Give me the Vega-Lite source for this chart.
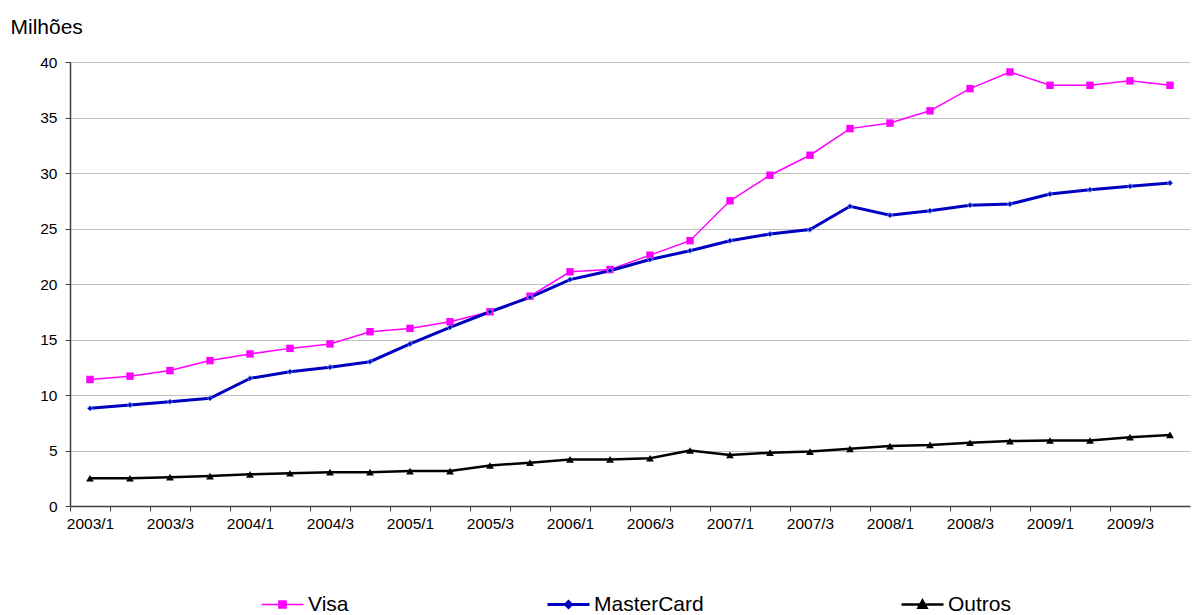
{
  "$schema": "https://vega.github.io/schema/vega-lite/v6.json",
  "description": "Cartões por bandeira, milhões, trimestral 2003-2009",
  "width": 1120,
  "height": 444,
  "autosize": "none",
  "padding": {"left": 70, "top": 62, "right": 4, "bottom": 109},
  "config": {
    "font": "Liberation Sans",
    "view": {"stroke": null},
    "axis": {"labelColor": "black", "titleColor": "black", "domainColor": "#404040", "tickColor": "#404040"}
  },
  "data": {
    "values": [
      {"q": "2003/1", "s": "Visa", "v": 11.4}, {"q": "2003/2", "s": "Visa", "v": 11.7}, {"q": "2003/3", "s": "Visa", "v": 12.2}, {"q": "2003/4", "s": "Visa", "v": 13.1},
      {"q": "2004/1", "s": "Visa", "v": 13.7}, {"q": "2004/2", "s": "Visa", "v": 14.2}, {"q": "2004/3", "s": "Visa", "v": 14.6}, {"q": "2004/4", "s": "Visa", "v": 15.7},
      {"q": "2005/1", "s": "Visa", "v": 16.0}, {"q": "2005/2", "s": "Visa", "v": 16.6}, {"q": "2005/3", "s": "Visa", "v": 17.5}, {"q": "2005/4", "s": "Visa", "v": 18.9},
      {"q": "2006/1", "s": "Visa", "v": 21.1}, {"q": "2006/2", "s": "Visa", "v": 21.3}, {"q": "2006/3", "s": "Visa", "v": 22.6}, {"q": "2006/4", "s": "Visa", "v": 23.9},
      {"q": "2007/1", "s": "Visa", "v": 27.5}, {"q": "2007/2", "s": "Visa", "v": 29.8}, {"q": "2007/3", "s": "Visa", "v": 31.6}, {"q": "2007/4", "s": "Visa", "v": 34.0},
      {"q": "2008/1", "s": "Visa", "v": 34.5}, {"q": "2008/2", "s": "Visa", "v": 35.6}, {"q": "2008/3", "s": "Visa", "v": 37.6}, {"q": "2008/4", "s": "Visa", "v": 39.1},
      {"q": "2009/1", "s": "Visa", "v": 37.9}, {"q": "2009/2", "s": "Visa", "v": 37.9}, {"q": "2009/3", "s": "Visa", "v": 38.3}, {"q": "2009/4", "s": "Visa", "v": 37.9},
      {"q": "2003/1", "s": "MasterCard", "v": 8.8}, {"q": "2003/2", "s": "MasterCard", "v": 9.1}, {"q": "2003/3", "s": "MasterCard", "v": 9.4}, {"q": "2003/4", "s": "MasterCard", "v": 9.7},
      {"q": "2004/1", "s": "MasterCard", "v": 11.5}, {"q": "2004/2", "s": "MasterCard", "v": 12.1}, {"q": "2004/3", "s": "MasterCard", "v": 12.5}, {"q": "2004/4", "s": "MasterCard", "v": 13.0},
      {"q": "2005/1", "s": "MasterCard", "v": 14.6}, {"q": "2005/2", "s": "MasterCard", "v": 16.1}, {"q": "2005/3", "s": "MasterCard", "v": 17.5}, {"q": "2005/4", "s": "MasterCard", "v": 18.8},
      {"q": "2006/1", "s": "MasterCard", "v": 20.4}, {"q": "2006/2", "s": "MasterCard", "v": 21.2}, {"q": "2006/3", "s": "MasterCard", "v": 22.2}, {"q": "2006/4", "s": "MasterCard", "v": 23.0},
      {"q": "2007/1", "s": "MasterCard", "v": 23.9}, {"q": "2007/2", "s": "MasterCard", "v": 24.5}, {"q": "2007/3", "s": "MasterCard", "v": 24.9}, {"q": "2007/4", "s": "MasterCard", "v": 27.0},
      {"q": "2008/1", "s": "MasterCard", "v": 26.2}, {"q": "2008/2", "s": "MasterCard", "v": 26.6}, {"q": "2008/3", "s": "MasterCard", "v": 27.1}, {"q": "2008/4", "s": "MasterCard", "v": 27.2},
      {"q": "2009/1", "s": "MasterCard", "v": 28.1}, {"q": "2009/2", "s": "MasterCard", "v": 28.5}, {"q": "2009/3", "s": "MasterCard", "v": 28.8}, {"q": "2009/4", "s": "MasterCard", "v": 29.1},
      {"q": "2003/1", "s": "Outros", "v": 2.5}, {"q": "2003/2", "s": "Outros", "v": 2.5}, {"q": "2003/3", "s": "Outros", "v": 2.6}, {"q": "2003/4", "s": "Outros", "v": 2.7},
      {"q": "2004/1", "s": "Outros", "v": 2.85}, {"q": "2004/2", "s": "Outros", "v": 2.95}, {"q": "2004/3", "s": "Outros", "v": 3.05}, {"q": "2004/4", "s": "Outros", "v": 3.05},
      {"q": "2005/1", "s": "Outros", "v": 3.15}, {"q": "2005/2", "s": "Outros", "v": 3.15}, {"q": "2005/3", "s": "Outros", "v": 3.65}, {"q": "2005/4", "s": "Outros", "v": 3.9},
      {"q": "2006/1", "s": "Outros", "v": 4.2}, {"q": "2006/2", "s": "Outros", "v": 4.2}, {"q": "2006/3", "s": "Outros", "v": 4.3}, {"q": "2006/4", "s": "Outros", "v": 5.0},
      {"q": "2007/1", "s": "Outros", "v": 4.6}, {"q": "2007/2", "s": "Outros", "v": 4.8}, {"q": "2007/3", "s": "Outros", "v": 4.9}, {"q": "2007/4", "s": "Outros", "v": 5.15},
      {"q": "2008/1", "s": "Outros", "v": 5.4}, {"q": "2008/2", "s": "Outros", "v": 5.5}, {"q": "2008/3", "s": "Outros", "v": 5.7}, {"q": "2008/4", "s": "Outros", "v": 5.85},
      {"q": "2009/1", "s": "Outros", "v": 5.9}, {"q": "2009/2", "s": "Outros", "v": 5.9}, {"q": "2009/3", "s": "Outros", "v": 6.2}, {"q": "2009/4", "s": "Outros", "v": 6.4}
    ]
  },
  "encoding": {
    "x": {
      "field": "q",
      "type": "ordinal",
      "sort": null,
      "scale": {"type": "band", "paddingInner": 0, "paddingOuter": 0},
      "axis": {
        "title": null,
        "orient": "bottom",
        "labelAngle": 0,
        "labelFontSize": 15.5,
        "labelPadding": 5,
        "labelOffset": 20,
        "labelOverlap": false,
        "tickOffset": -20,
        "tickSize": 5,
        "domainWidth": 1.5,
        "labelExpr": "indexof(datum.value, '/1') > 0 || indexof(datum.value, '/3') > 0 ? datum.value : ''"
      }
    },
    "y": {
      "field": "v",
      "type": "quantitative",
      "scale": {"domain": [0, 40], "nice": false},
      "axis": {
        "values": [0, 5, 10, 15, 20, 25, 30, 35, 40],
        "title": "Milhões",
        "titleAngle": 0,
        "titleAlign": "left",
        "titleBaseline": "middle",
        "titleX": -60,
        "titleY": -35,
        "titleFontSize": 21,
        "titleFontWeight": "normal",
        "labelFontSize": 15.5,
        "labelPadding": 8,
        "tickSize": 5,
        "domainWidth": 1.5,
        "gridColor": "#c0c0c0",
        "gridWidth": 1
      }
    },
    "color": {
      "field": "s",
      "type": "nominal",
      "scale": {"domain": ["Visa", "MasterCard", "Outros"], "range": ["#ff00ff", "#0000c0", "#000000"]},
      "legend": {
        "orient": "none",
        "legendX": 202,
        "legendY": 532,
        "direction": "horizontal",
        "title": null,
        "labelFontSize": 21,
        "labelColor": "black",
        "labelOffset": 15,
        "symbolSize": 1764,
        "columnPadding": 192,
        "gridAlign": "none",
        "encode": {
          "symbols": {
            "update": {
              "shape": {"signal": "datum.value === 'Visa' ? 'M-1,0H1M-0.17,-0.17H0.17V0.17H-0.17Z' : datum.value === 'MasterCard' ? 'M-1,0H1M0,-0.14L0.14,0L0,0.14L-0.14,0Z' : 'M-1,0H1M0,-0.19L0.19,0.15L-0.19,0.15Z'"},
              "fill": {"signal": "datum.value === 'Visa' ? '#ff00ff' : datum.value === 'MasterCard' ? '#0000c0' : '#000000'"},
              "stroke": {"signal": "datum.value === 'Visa' ? '#ff00ff' : datum.value === 'MasterCard' ? '#0000c0' : '#000000'"},
              "strokeWidth": {"signal": "datum.value === 'Visa' ? 1.5 : datum.value === 'MasterCard' ? 3 : 2.5"}
            }
          }
        }
      }
    }
  },
  "layer": [
    {
      "transform": [{"filter": "datum.s === 'Visa'"}],
      "mark": {"type": "line", "strokeWidth": 1.5}
    },
    {
      "transform": [{"filter": "datum.s === 'MasterCard'"}],
      "mark": {"type": "line", "strokeWidth": 3}
    },
    {
      "transform": [{"filter": "datum.s === 'Outros'"}],
      "mark": {"type": "line", "strokeWidth": 2.5}
    },
    {
      "transform": [{"filter": "datum.s === 'Visa'"}],
      "mark": {"type": "point", "filled": true, "opacity": 1, "shape": "square", "size": 55}
    },
    {
      "transform": [{"filter": "datum.s === 'MasterCard'"}],
      "mark": {"type": "point", "filled": true, "opacity": 1, "shape": "diamond", "size": 28, "stroke": "#5b8fe8", "strokeWidth": 1}
    },
    {
      "transform": [{"filter": "datum.s === 'Outros'"}],
      "mark": {"type": "point", "filled": true, "opacity": 1, "shape": "triangle-up", "size": 60}
    }
  ]
}
